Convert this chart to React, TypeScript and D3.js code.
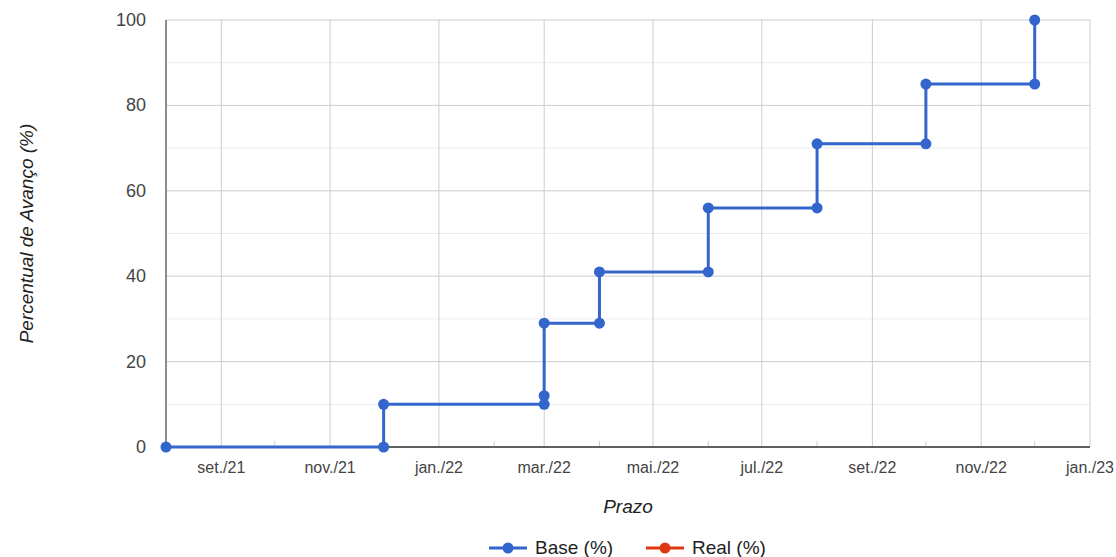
import React from 'react'
import * as d3 from 'd3'

// Base (%) series (step-wise schedule)
const baseDates = [
  '2021-08-01', '2021-12-01', '2021-12-01', '2022-03-01', '2022-03-01', '2022-03-01',
  '2022-04-01', '2022-04-01', '2022-06-01', '2022-06-01', '2022-08-01', '2022-08-01',
  '2022-10-01', '2022-10-01', '2022-12-01', '2022-12-01',
]
const baseValues = [0, 0, 10, 10, 12, 29, 29, 41, 41, 56, 56, 71, 71, 85, 85, 100]

// Real (%) has no points yet, it only shows in the legend
const realDates: string[] = []
const realValues: number[] = []

const yTicks = [0, 20, 40, 60, 80, 100]
const yMinorTicks = [10, 30, 50, 70, 90]
const monthNames = ['jan.', 'fev.', 'mar.', 'abr.', 'mai.', 'jun.', 'jul.', 'ago.', 'set.', 'out.', 'nov.', 'dez.']
const xStart = '2021-08-01'
const xEnd = '2023-01-01'

const seriesNames = ['Base (%)', 'Real (%)']
const colors = ['#3366cc', '#dc3912']

const width = 1116
const height = 557
const left = 166
const right = 1090
const top = 20
const bottom = 447

const font = 'Arial, "Liberation Sans", sans-serif'

function App() {
  const parse = d3.timeParse('%Y-%m-%d')
  const x = d3.scaleTime()
    .domain([parse(xStart)!, parse(xEnd)!])
    .range([left, right])
  const y = d3.scaleLinear().domain([0, 100]).range([bottom, top])

  const base = baseDates.map((d, i) => ({ date: parse(d)!, value: baseValues[i] }))
  const real = realDates.map((d, i) => ({ date: parse(d)!, value: realValues[i] }))

  const line = d3.line<{ date: Date; value: number }>()
    .x(d => x(d.date))
    .y(d => y(d.value))

  const majorX = x.ticks(d3.timeMonth.every(2)!).filter(d => +d > +x.domain()[0])
  const minorX = x.ticks(d3.timeMonth.every(1)!).filter(d => d.getMonth() % 2 === 1 && +d > +x.domain()[0])
  const fmt = (d: Date) => monthNames[d.getMonth()] + '/' + String(d.getFullYear()).slice(2)

  return (
    <svg width={width} height={height} style={{ position: 'absolute', left: 0, top: 0, background: '#fff' }}>
      {/* minor horizontal grid */}
      {yMinorTicks.map(t => (
        <line key={'ym' + t} x1={left} x2={right} y1={y(t)} y2={y(t)} stroke="#ebebeb" strokeWidth={1} />
      ))}
      {/* major horizontal grid */}
      {yTicks.map(t => (
        <line key={'y' + t} x1={left} x2={right} y1={y(t)} y2={y(t)} stroke="#cccccc" strokeWidth={1} />
      ))}
      {/* major vertical grid */}
      {majorX.map(d => (
        <line key={'x' + +d} x1={x(d)} x2={x(d)} y1={top} y2={bottom} stroke="#cccccc" strokeWidth={1} />
      ))}
      {/* minor tick marks */}
      {minorX.map(d => (
        <line key={'xm' + +d} x1={x(d)} x2={x(d)} y1={bottom - 6} y2={bottom} stroke="#cccccc" strokeWidth={1} />
      ))}
      {/* axes */}
      <line x1={left} x2={left} y1={top} y2={bottom} stroke="#666666" strokeWidth={1.5} />
      <line x1={left} x2={right} y1={bottom} y2={bottom} stroke="#333333" strokeWidth={1.5} />

      {/* y labels */}
      {yTicks.map(t => (
        <text key={'yl' + t} x={146} y={y(t) + 6} textAnchor="end" fontFamily={font} fontSize={18} fill="#444444">
          {t}
        </text>
      ))}
      {/* x labels */}
      {majorX.map(d => (
        <text key={'xl' + +d} x={x(d)} y={473} textAnchor="middle" fontFamily={font} fontSize={16} fill="#444444">
          {fmt(d)}
        </text>
      ))}

      {/* axis titles */}
      <text x={(left + right) / 2} y={513} textAnchor="middle" fontFamily={font} fontSize={19} fontStyle="italic" fill="#222222">
        Prazo
      </text>
      <text transform={`translate(33, ${(top + bottom) / 2}) rotate(-90)`} textAnchor="middle" fontFamily={font} fontSize={19} fontStyle="italic" fill="#222222">
        Percentual de Avanço (%)
      </text>

      {/* series */}
      {[base, real].map((s, i) => (
        <g key={'s' + i}>
          {s.length > 0 && <path d={line(s) ?? ''} fill="none" stroke={colors[i]} strokeWidth={3} />}
          {s.map((p, j) => (
            <circle key={j} cx={x(p.date)} cy={y(p.value)} r={5.5} fill={colors[i]} />
          ))}
        </g>
      ))}

      {/* legend */}
      {seriesNames.map((name, i) => {
        const lx = i === 0 ? 489 : 646
        return (
          <g key={'lg' + i}>
            <line x1={lx} x2={lx + 38} y1={548} y2={548} stroke={colors[i]} strokeWidth={3} />
            <circle cx={lx + 19} cy={548} r={5.5} fill={colors[i]} />
            <text x={lx + 46} y={554} fontFamily={font} fontSize={19} fill="#222222">
              {name}
            </text>
          </g>
        )
      })}
    </svg>
  )
}

export default App
